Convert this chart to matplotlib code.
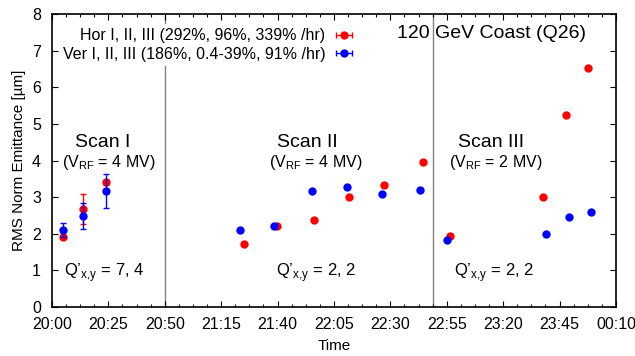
import matplotlib
matplotlib.use("Agg")
import matplotlib.pyplot as plt
from matplotlib.ticker import MultipleLocator

plt.rcParams["font.family"] = ["Liberation Sans", "DejaVu Sans"]
plt.rcParams["mathtext.fontset"] = "custom"
plt.rcParams["mathtext.rm"] = "Liberation Sans"

# time in minutes after 20:00
tick_minutes = [0, 25, 50, 75, 100, 125, 150, 175, 200, 225, 250]
tick_labels = ["20:00", "20:25", "20:50", "21:15", "21:40", "22:05",
               "22:30", "22:55", "23:20", "23:45", "00:10"]

hor_t = [5.0, 13.9, 24.0, 85.0, 99.7, 116.1, 131.8, 147.3, 164.3,
         176.4, 217.6, 227.8, 237.6]
hor_e = [1.92, 2.67, 3.40, 1.73, 2.20, 2.37, 3.01, 3.34, 3.96,
         1.93, 3.00, 5.23, 6.52]
hor_err = [0.05, 0.41, 0.08, 0, 0, 0, 0, 0, 0, 0, 0, 0, 0]

ver_t = [5.0, 13.9, 24.0, 83.3, 98.5, 115.1, 130.8, 146.1, 163.1,
         175.1, 219.0, 229.3, 238.9]
ver_e = [2.10, 2.48, 3.16, 2.10, 2.21, 3.16, 3.29, 3.08, 3.20,
         1.83, 1.99, 2.45, 2.59]
ver_err = [0.20, 0.36, 0.47, 0, 0, 0, 0, 0, 0, 0, 0, 0, 0]

scan_breaks = [50, 169]

fig = plt.figure(figsize=(6.35, 3.56), dpi=100)
ax = fig.add_axes([0.0819, 0.1376, 0.8881, 0.8231])

for xb in scan_breaks:
    ax.axvline(xb, color="#808080", lw=1.0, zorder=1)

ax.errorbar(hor_t, hor_e, yerr=hor_err, fmt="o", color="#ff0000", ms=5,
            elinewidth=1, capsize=2.5, capthick=1, zorder=3)
ax.errorbar(ver_t, ver_e, yerr=ver_err, fmt="o", color="#0000ff", ms=5,
            elinewidth=1, capsize=2.5, capthick=1, zorder=4)

# legend proxies with horizontal bars
h1 = ax.errorbar([float("nan")], [float("nan")], xerr=[1], fmt="o", color="#ff0000",
                 ms=5, elinewidth=1, capsize=2.5)
h2 = ax.errorbar([float("nan")], [float("nan")], xerr=[1], fmt="o", color="#0000ff",
                 ms=5, elinewidth=1, capsize=2.5)
leg = ax.legend([h1, h2],
                ["Hor I, II, III (292%, 96%, 339% /hr)",
                 "Ver I, II, III (186%, 0.4-39%, 91% /hr)"],
                loc="upper right", bbox_to_anchor=(0.540, 0.965),
                markerfirst=False, fontsize=11.5, frameon=True,
                handlelength=1.1, handletextpad=0.6, labelspacing=0.22,
                borderpad=0.25, borderaxespad=0)
leg.get_frame().set_facecolor("white")
leg.get_frame().set_edgecolor("none")
leg.get_frame().set_alpha(1)
leg.set_zorder(5)

ax.text(195, 7.47, "120 GeV Coast (Q26)", fontsize=14, ha="center", va="center")

sub = r"$_\mathregular{x{,}y}$"
ax.text(22.3, 4.5, "Scan I", fontsize=14, ha="center", va="center")
ax.text(25, 3.95, r"(V$_\mathregular{RF}$ = 4 MV)", fontsize=11.5, ha="center", va="center")
ax.text(23, 0.95, "Q’" + sub + " = 7, 4", fontsize=12, ha="center", va="center")

ax.text(113, 4.5, "Scan II", fontsize=14, ha="center", va="center")
ax.text(116.8, 3.95, r"(V$_\mathregular{RF}$ = 4 MV)", fontsize=11.5, ha="center", va="center")
ax.text(117, 0.95, "Q’" + sub + " = 2, 2", fontsize=12, ha="center", va="center")

ax.text(194.6, 4.5, "Scan III", fontsize=14, ha="center", va="center")
ax.text(196.6, 3.95, r"(V$_\mathregular{RF}$ = 2 MV)", fontsize=11.5, ha="center", va="center")
ax.text(196, 0.95, "Q’" + sub + " = 2, 2", fontsize=12, ha="center", va="center")

ax.set_xlim(0, 250)
ax.set_ylim(0, 8)
ax.set_xticks(tick_minutes)
ax.set_xticklabels(tick_labels)
ax.xaxis.set_minor_locator(MultipleLocator(6.25))
ax.yaxis.set_major_locator(MultipleLocator(1))
ax.tick_params(which="both", direction="in", top=True, right=True, labelsize=11.5)
ax.tick_params(axis="x", which="major", pad=7)
ax.tick_params(axis="y", which="major", pad=8)
ax.tick_params(which="major", length=4.5, width=0.8)
ax.tick_params(which="minor", length=2.5, width=0.8)
for s in ax.spines.values():
    s.set_linewidth(1.2)

ax.set_xlabel("Time", fontsize=11, labelpad=5)
ax.set_ylabel("RMS Norm Emittance [µm]", fontsize=11, labelpad=4)

fig.savefig("out.png", dpi=100)
